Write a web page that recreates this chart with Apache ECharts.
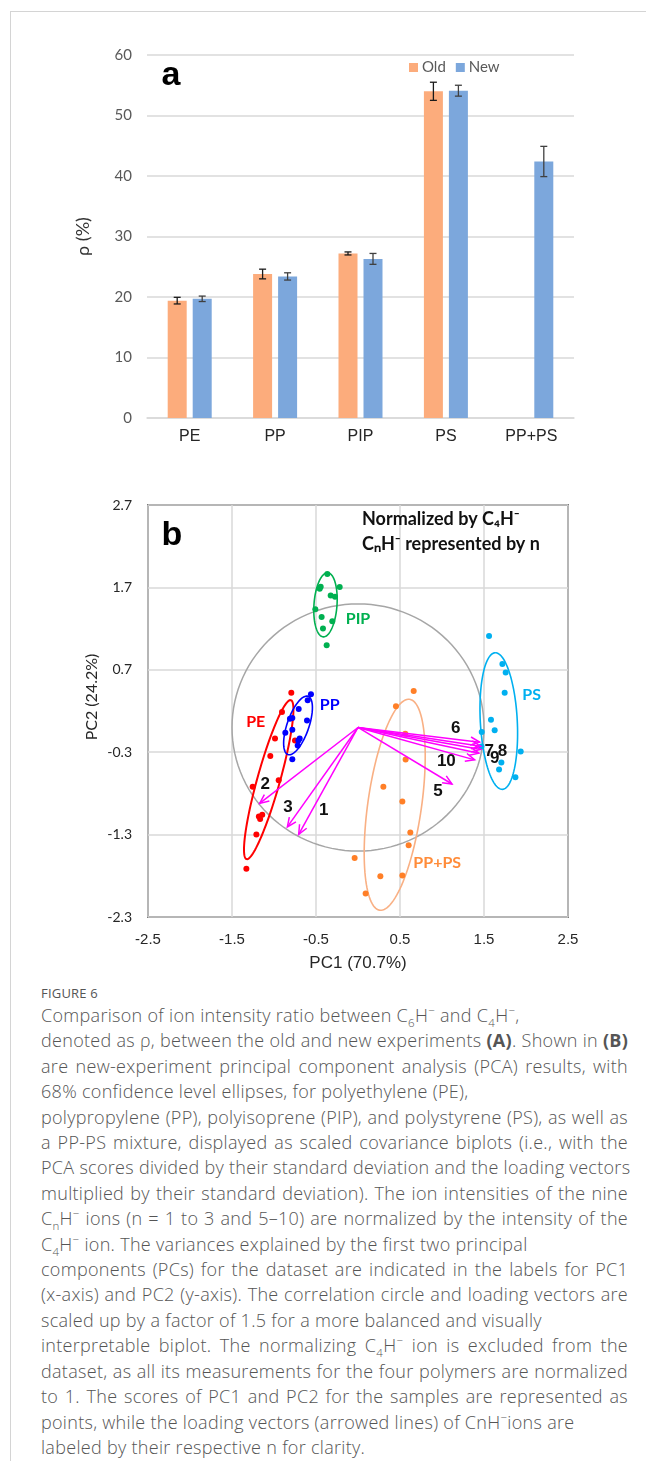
<!DOCTYPE html>
<html>
<head>
<meta charset="utf-8">
<script src="https://cdn.jsdelivr.net/npm/echarts@6/dist/echarts.min.js"></script>
<style>
  html, body { margin: 0; padding: 0; background: #fff; }
  #page { position: relative; width: 646px; height: 1461px; overflow: hidden; }
  #frame { position: absolute; left: 10px; top: 11px; width: 640px; height: 1460px;
           border-left: 1px solid #d4d4d4; border-top: 1px solid #d4d4d4; }
  #chart { position: absolute; left: 0; top: 0; width: 646px; height: 980px; }
  #caption { position: absolute; left: 41px; top: 983px; width: 587px; font-family: 'Open Sans', 'Noto Sans', sans-serif; color: #555; }
  #caption .fig { font-size: 13px; line-height: 20px; letter-spacing: 0.2px; font-weight: 500; }
  #caption .ln { font-size: 18px; line-height: 25.4px; white-space: nowrap; font-weight: 300; letter-spacing: 0.3px; }
  #caption .full { text-align: justify; text-align-last: justify; }
  #caption b { font-weight: 700; }
  #caption sub, #caption sup { font-size: 11.5px; line-height: 0; }
</style>
</head>
<body>
<div id="page">
  <div id="frame"></div>
  <div id="chart"></div>
  <div id="caption">
    <div class="fig">FIGURE 6</div>
    <div class="ln">Comparison of ion intensity ratio between C<sub>6</sub>H<sup>−</sup> and C<sub>4</sub>H<sup>−</sup>,</div>
    <div class="ln full">denoted as ρ, between the old and new experiments <b>(A)</b>. Shown in <b>(B)</b></div>
    <div class="ln full">are new-experiment principal component analysis (PCA) results, with</div>
    <div class="ln">68% confidence level ellipses, for polyethylene (PE),</div>
    <div class="ln full">polypropylene (PP), polyisoprene (PIP), and polystyrene (PS), as well as</div>
    <div class="ln full">a PP-PS mixture, displayed as scaled covariance biplots (i.e., with the</div>
    <div class="ln full">PCA scores divided by their standard deviation and the loading vectors</div>
    <div class="ln full">multiplied by their standard deviation). The ion intensities of the nine</div>
    <div class="ln full">C<sub>n</sub>H<sup>−</sup> ions (n = 1 to 3 and 5–10) are normalized by the intensity of the</div>
    <div class="ln">C<sub>4</sub>H<sup>−</sup> ion. The variances explained by the first two principal</div>
    <div class="ln full">components (PCs) for the dataset are indicated in the labels for PC1</div>
    <div class="ln full">(x-axis) and PC2 (y-axis). The correlation circle and loading vectors are</div>
    <div class="ln">scaled up by a factor of 1.5 for a more balanced and visually</div>
    <div class="ln full">interpretable biplot. The normalizing C<sub>4</sub>H<sup>−</sup> ion is excluded from the</div>
    <div class="ln full">dataset, as all its measurements for the four polymers are normalized</div>
    <div class="ln full">to 1. The scores of PC1 and PC2 for the samples are represented as</div>
    <div class="ln">points, while the loading vectors (arrowed lines) of CnH<sup>−</sup>ions are</div>
    <div class="ln">labeled by their respective n for clarity.</div>
  </div>
</div>
<script>
// 图a：ρ 数据
const categories = ['PE', 'PP', 'PIP', 'PS', 'PP+PS'];
const oldValues = [19.4, 23.8, 27.2, 54.0, null];
const newValues = [19.7, 23.4, 26.3, 54.1, 42.4];
const oldErrors = [0.55, 0.8, 0.25, 1.5, null];
const newErrors = [0.45, 0.6, 0.9, 0.9, 2.5];

// 图b：PCA 得分 (PC1, PC2)
const peScores = [[-0.794, 0.42], [-0.905, 0.188], [-0.988, -0.133], [-0.75, -0.158], [-1.044, -0.345],
  [-0.944, -0.641], [-1.254, -0.719], [-1.18, -1.08], [-1.14, -1.06], [-1.165, -1.11], [-1.21, -1.30], [-1.329, -1.715]];
const ppScores = [[-0.56, 0.403], [-0.599, 0.33], [-0.706, 0.224], [-0.81, 0.107], [-0.782, 0.115], [-0.607, 0.086],
  [-0.782, -0.028], [-0.865, -0.064], [-0.694, -0.133], [-0.71, -0.158], [-0.718, -0.219], [-0.782, -0.385]];
const pipScores = [[-0.365, 1.863], [-0.444, 1.708], [-0.456, 1.684], [-0.218, 1.704], [-0.325, 1.602], [-0.274, 1.586],
  [-0.508, 1.436], [-0.433, 1.342], [-0.306, 1.289], [-0.417, 1.2], [-0.373, 0.997]];
const psScores = [[1.56, 1.11], [1.719, 0.77], [1.758, 0.668], [1.746, 0.42], [1.583, 0.095], [1.627, -0.035],
  [1.473, -0.056], [1.469, -0.23], [1.937, -0.29], [1.707, -0.426], [1.679, -0.511], [1.874, -0.605]];
const ppPsScores = [[0.663, 0.444], [0.452, 0.257], [0.563, -0.076], [0.567, -0.389], [0.302, -0.719], [0.528, -0.898],
  [0.623, -1.276], [0.603, -1.43], [-0.04, -1.585], [0.266, -1.804], [0.528, -1.796], [0.091, -2.015]];

// 68% 置信椭圆: [中心x, 中心y, 长半轴, 短半轴, 角度(度)]
const groupNames = ['PE', 'PP', 'PIP', 'PS', 'PP+PS'];
const groupEllipses = [[-1.063, -0.633, 1.0, 0.135, 74.7], [-0.714, 0.025, 0.373, 0.13, 71.4],
  [-0.387, 1.489, 0.39, 0.137, 86], [1.676, 0.078, 0.83, 0.22, 93], [0.437, -0.938, 1.292, 0.32, 82.1]];
const groupLabelPos = [[-1.218, 0.066], [-0.337, 0.27], [0.0, 1.314], [2.068, 0.391], [0.943, -1.641]];
const circleRadius = 1.5; // 相关圆 (x1.5)

// 载荷向量 CnH-
const loadingNames = ['1', '2', '3', '5', '6', '7', '8', '9', '10'];
const loadingVectors = [[-0.706, -1.296], [-1.171, -0.922], [-0.841, -1.207], [1.119, -0.686], [1.448, -0.178],
  [1.46, -0.227], [1.46, -0.267], [1.44, -0.312], [1.389, -0.393]];
const loadingLabelPos = [[-0.409, -1.011], [-1.103, -0.694], [-0.833, -0.971], [0.952, -0.78], [1.164, -0.015],
  [1.562, -0.29], [1.72, -0.29], [1.627, -0.38], [1.052, -0.413]];

const scoreSets = [peScores, ppScores, pipScores, psScores, ppPsScores];
const pointColors = ['#ff0000', '#0000ff', '#00b050', '#00b0f0', '#ff7f27'];
const ellipseColors = ['#ff0000', '#0000ff', '#00b050', '#00b0f0', '#f9b084'];
const labelColors = ['#ff0000', '#0000ff', '#00b050', '#00b0f0', '#ff8c3a'];

const BAR_W = 19, BAR_GAP = 6;

// 误差棒
function errorBar(offset, color) {
  return function (params, api) {
    const i = api.value(0), v = api.value(1), e = api.value(2);
    const hi = api.coord([i, v + e]), lo = api.coord([i, v - e]);
    const x = hi[0] + offset, cap = 3.5;
    const st = { stroke: color, lineWidth: 1.3 };
    return { type: 'group', children: [
      { type: 'line', shape: { x1: x, y1: hi[1], x2: x, y2: lo[1] }, style: st },
      { type: 'line', shape: { x1: x - cap, y1: hi[1], x2: x + cap, y2: hi[1] }, style: st },
      { type: 'line', shape: { x1: x - cap, y1: lo[1], x2: x + cap, y2: lo[1] }, style: st }
    ] };
  };
}

// 椭圆 (数据空间 -> 像素)
function ellipseShape(color, width) {
  return function (params, api) {
    const cx = api.value(0), cy = api.value(1), a = api.value(2), b = api.value(3);
    const t = api.value(4) * Math.PI / 180;
    const pts = [];
    for (let k = 0; k <= 120; k++) {
      const s = k / 120 * Math.PI * 2;
      const dx = a * Math.cos(s), dy = b * Math.sin(s);
      pts.push(api.coord([cx + dx * Math.cos(t) - dy * Math.sin(t), cy + dx * Math.sin(t) + dy * Math.cos(t)]));
    }
    return { type: 'polyline', shape: { points: pts }, style: { stroke: color, lineWidth: width, fill: 'none' } };
  };
}

// 箭头
function arrowShape(params, api) {
  const o = api.coord([0, 0]);
  const p = api.coord([api.value(0), api.value(1)]);
  const ang = Math.atan2(p[1] - o[1], p[0] - o[0]);
  const h = 10, w = 0.42;
  const l = [p[0] - h * Math.cos(ang - w), p[1] - h * Math.sin(ang - w)];
  const r = [p[0] - h * Math.cos(ang + w), p[1] - h * Math.sin(ang + w)];
  const st = { stroke: '#ff00ff', lineWidth: 1.5, fill: 'none' };
  return { type: 'group', children: [
    { type: 'line', shape: { x1: o[0], y1: o[1], x2: p[0], y2: p[1] }, style: st },
    { type: 'polyline', shape: { points: [l, p, r] }, style: st }
  ] };
}

// 文字标签
function textLabel(names, colors, font) {
  return function (params, api) {
    const p = api.coord([api.value(0), api.value(1)]);
    const c = Array.isArray(colors) ? colors[params.dataIndex] : colors;
    return { type: 'text', x: p[0], y: p[1],
      style: { text: names[params.dataIndex], fill: c, font: font, align: 'center', verticalAlign: 'middle' } };
  };
}

const series = [
  {
    name: 'Old', type: 'bar', xAxisIndex: 0, yAxisIndex: 0, data: oldValues,
    barWidth: BAR_W, barGap: (BAR_GAP / BAR_W * 100) + '%', itemStyle: { color: '#fcac7c' }
  },
  {
    name: 'New', type: 'bar', xAxisIndex: 0, yAxisIndex: 0, data: newValues,
    barWidth: BAR_W, itemStyle: { color: '#7ca7dc' }
  },
  {
    name: 'oldErr', type: 'custom', xAxisIndex: 0, yAxisIndex: 0, z: 5,
    renderItem: errorBar(-(BAR_W + BAR_GAP) / 2, '#1a1a1a'), encode: { x: 0, y: 1 },
    data: categories.map((c, i) => [i, oldValues[i], oldErrors[i]]).filter(d => d[1] != null)
  },
  {
    name: 'newErr', type: 'custom', xAxisIndex: 0, yAxisIndex: 0, z: 5,
    renderItem: errorBar((BAR_W + BAR_GAP) / 2, '#404040'), encode: { x: 0, y: 1 },
    data: categories.map((c, i) => [i, newValues[i], newErrors[i]])
  },
  {
    name: 'circle', type: 'custom', xAxisIndex: 1, yAxisIndex: 1, z: 2,
    renderItem: ellipseShape('#a6a6a6', 1.5), encode: { x: 0, y: 1 },
    data: [[0, 0, circleRadius, circleRadius, 0]]
  }
];

groupNames.forEach((g, i) => {
  series.push({
    name: g + ' ellipse', type: 'custom', xAxisIndex: 1, yAxisIndex: 1, z: 3,
    renderItem: ellipseShape(ellipseColors[i], i === 0 ? 2 : 1.6), encode: { x: 0, y: 1 },
    data: [groupEllipses[i]]
  });
  series.push({
    name: g, type: 'scatter', xAxisIndex: 1, yAxisIndex: 1, z: 4,
    symbolSize: 6, itemStyle: { color: pointColors[i], opacity: 1 },
    data: scoreSets[i]
  });
});

series.push({
  name: 'loadings', type: 'custom', xAxisIndex: 1, yAxisIndex: 1, z: 6,
  renderItem: arrowShape, encode: { x: 0, y: 1 }, data: loadingVectors
});
series.push({
  name: 'loadingLabels', type: 'custom', xAxisIndex: 1, yAxisIndex: 1, z: 7,
  renderItem: textLabel(loadingNames, '#111', 'bold 17px "Liberation Sans", Arial'), encode: { x: 0, y: 1 },
  data: loadingLabelPos
});
series.push({
  name: 'groupLabels', type: 'custom', xAxisIndex: 1, yAxisIndex: 1, z: 7,
  renderItem: textLabel(groupNames, labelColors, 'bold 16px Lato'), encode: { x: 0, y: 1 },
  data: groupLabelPos
});

const myChart = echarts.init(document.getElementById('chart'));

const option = {
  animation: false,
  grid: [
    { left: 147, top: 55, width: 427, height: 363 },
    { left: 148, top: 505, width: 420, height: 412, show: true, borderColor: '#1a1a1a', borderWidth: 1.5, backgroundColor: 'transparent' }
  ],
  legend: {
    data: ['Old', 'New'], left: 404, top: 55, icon: 'rect', itemWidth: 9, itemHeight: 9, itemGap: 10,
    textStyle: { fontFamily: 'Lato', fontSize: 15, color: '#595959', padding: [0, 0, 0, -1] }
  },
  xAxis: [
    {
      type: 'category', gridIndex: 0, data: categories,
      axisLine: { lineStyle: { color: '#d9d9d9', width: 1.5 } }, axisTick: { show: false },
      axisLabel: { color: '#262626', fontFamily: '"Liberation Sans", Arial', fontSize: 16, margin: 11 }
    },
    {
      type: 'value', gridIndex: 1, min: -2.5, max: 2.5, interval: 1,
      axisLine: { show: false }, axisTick: { show: false },
      splitLine: { lineStyle: { color: '#d9d9d9', width: 1.5 } },
      axisLabel: { color: '#262626', fontFamily: '"Liberation Sans", Arial', fontSize: 15, margin: 15,
        formatter: v => v.toFixed(1) },
      name: 'PC1 (70.7%)', nameLocation: 'middle', nameGap: 38,
      nameTextStyle: { color: '#262626', fontFamily: '"Liberation Sans", Arial', fontSize: 17 }
    }
  ],
  yAxis: [
    {
      type: 'value', gridIndex: 0, min: 0, max: 60, interval: 10,
      axisLine: { show: false }, axisTick: { show: false },
      splitLine: { lineStyle: { color: '#d9d9d9', width: 1.5 } },
      axisLabel: { color: '#595959', fontFamily: 'Lato', fontSize: 15, margin: 15 },
      name: 'ρ (%)', nameLocation: 'middle', nameGap: 55,
      nameTextStyle: { color: '#333', fontFamily: 'Lato', fontSize: 18 }
    },
    {
      type: 'value', gridIndex: 1, min: -2.3, max: 2.7, interval: 1,
      axisLine: { show: false }, axisTick: { show: false },
      splitLine: { lineStyle: { color: '#d9d9d9', width: 1.5 } },
      axisLabel: { color: '#262626', fontFamily: 'Lato', fontSize: 14, margin: 16,
        formatter: v => v.toFixed(1) }
    }
  ],
  graphic: [
    { type: 'text', x: 171, y: 76, style: { text: 'a', font: 'bold 34px "Liberation Sans", Arial', fill: '#000', align: 'center', verticalAlign: 'middle' } },
    { type: 'text', x: 172, y: 536, z: 10, style: { text: 'b', font: 'bold 34px "Liberation Sans", Arial', fill: '#000', align: 'center', verticalAlign: 'middle' } },
    { type: 'text', x: 362, y: 519, z: 10, style: { text: 'Normalized by C₄H⁻', font: 'bold 18px Lato', fill: '#111', verticalAlign: 'middle' } },
    { type: 'text', x: 362, y: 544, z: 10, style: { text: 'CₙH⁻ represented by n', font: 'bold 18px Lato', fill: '#111', verticalAlign: 'middle' } },
    { type: 'text', x: 92, y: 697, rotation: Math.PI / 2, style: { text: 'PC2 (24.2%)', font: '16px Lato', fill: '#262626', align: 'center', verticalAlign: 'middle' } }
  ],
  series
};

myChart.setOption(option);
</script>
</body>
</html>
